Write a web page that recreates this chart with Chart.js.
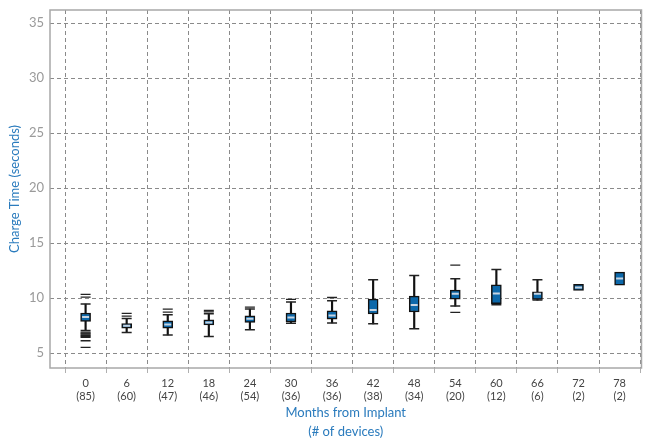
<!DOCTYPE html>
<html lang="en">
<head>
  <meta charset="UTF-8">
  <title>Charge Time vs Months from Implant</title>
  <script src="https://cdn.jsdelivr.net/npm/chart.js"></script>
  <style>
    html, body { margin: 0; padding: 0; background: #fff; }
    #wrap { width: 648px; height: 439px; position: relative; }
  </style>
</head>
<body>
  <div id="wrap"><canvas id="chart"></canvas></div>

  <script>
    // months from implant and device counts
    const months = [0, 6, 12, 18, 24, 30, 36, 42, 48, 54, 60, 66, 72, 78];
    const counts = [85, 60, 47, 46, 54, 36, 36, 38, 34, 20, 12, 6, 2, 2];

    // box plot stats (seconds)
    const q1 = [7.87, 7.27, 7.27, 7.55, 7.78, 7.82, 8.09, 8.55, 8.73, 9.9, 9.48, 9.88, 10.7, 11.18];
    const median = [8.27, 7.48, 7.6, 7.78, 8.12, 8.24, 8.42, 8.91, 9.38, 10.39, 10.42, 10.39, 10.97, 11.78];
    const q3 = [8.64, 7.69, 7.94, 8.03, 8.39, 8.64, 8.85, 9.9, 10.17, 10.72, 11.2, 10.57, 11.24, 12.36];
    const whiskerLo = [7.04, 6.87, 6.64, 6.51, 7.12, 7.7, 7.73, 7.66, 7.22, 9.27, 9.39, 9.82, null, null];
    const whiskerHi = [9.46, 8.15, 8.48, 8.57, 9.0, 9.64, 9.75, 11.66, 12.06, 11.75, 12.6, 11.66, null, null];
    const outliers = [
      [10.33, 10.09, 6.9, 6.82, 6.74, 6.66, 6.58, 6.5, 6.42, 6.12, 5.52],
      [8.6, 8.36],
      [9.0, 8.73],
      [8.87, 8.75],
      [9.18],
      [9.88],
      [10.05],
      [], [],
      [13.0, 8.69],
      [], [], [], []
    ];

    const yTicks = [5, 10, 15, 20, 25, 30, 35];

    const blue = '#0c68aa';
    const titleBlue = '#2a7bbd';
    const font = "Lato, 'Open Sans', sans-serif";

    const whiskerData = [], boxData = [], medianData = [], capData = [], outlierData = [];
    months.forEach((m, i) => {
      if (whiskerLo[i] != null) {
        whiskerData.push({ x: m, y: [whiskerLo[i], whiskerHi[i]] });
        capData.push({ x: m, y: whiskerLo[i] }, { x: m, y: whiskerHi[i] });
      }
      boxData.push({ x: m, y: [q1[i], q3[i]] });
      medianData.push({ x: m, y: median[i] });
      outliers[i].forEach(v => outlierData.push({ x: m, y: v }));
    });

    const framePlugin = {
      id: 'frame',
      afterDraw(chart) {
        const a = chart.chartArea, ctx = chart.ctx;
        ctx.save();
        ctx.strokeStyle = '#a8a8a8';
        ctx.lineWidth = 1.5;
        ctx.setLineDash([]);
        ctx.strokeRect(a.left, a.top, a.right - a.left, a.bottom - a.top);
        ctx.restore();
      }
    };

    new Chart(document.getElementById('chart'), {
      type: 'bar',
      data: {
        datasets: [
          { label: 'whisker', data: whiskerData, backgroundColor: '#111', barThickness: 1.5, grouped: false, order: 3 },
          { label: 'box', data: boxData, backgroundColor: blue, borderColor: '#111', borderWidth: 1.5,
            borderSkipped: false, barThickness: 10, grouped: false, order: 2 },
          { type: 'scatter', label: 'median', data: medianData, pointStyle: 'line', radius: 3.5,
            borderColor: '#c6d4e2', borderWidth: 2, order: 1 },
          { type: 'scatter', label: 'cap', data: capData, pointStyle: 'line', radius: 5,
            borderColor: '#222', borderWidth: 1.5, order: 1 },
          { type: 'scatter', label: 'outlier', data: outlierData, pointStyle: 'line', radius: 5,
            borderColor: '#222', borderWidth: 1.3, order: 1 }
        ]
      },
      options: {
        responsive: true,
        maintainAspectRatio: false,
        animation: false,
        layout: { padding: { top: 10, right: 5, left: 0, bottom: 0 } },
        plugins: { legend: { display: false }, tooltip: { enabled: false } },
        scales: {
          x: {
            type: 'linear',
            offset: false,
            min: -5.2,
            max: 81.2,
            afterBuildTicks: s => { s.ticks = months.map(v => ({ value: v })); },
            afterFit: s => { s.height = 71; s.paddingLeft = 0; s.paddingRight = 0; },
            grid: { color: '#8a8a8a', lineWidth: 1, tickLength: 5, tickColor: '#b0b0b0', tickBorderDash: [] },
            border: { display: false, dash: [4, 3] },
            ticks: {
              color: '#444',
              padding: 4,
              maxRotation: 0,
              font: { family: font, size: 11, lineHeight: 1.2 },
              callback: (v) => { const i = months.indexOf(v); return [String(v), '(' + counts[i] + ')']; }
            },
            title: {
              display: true,
              text: ['Months from Implant', '(# of devices)'],
              color: titleBlue,
              font: { family: font, size: 13, lineHeight: 1.45 },
              padding: { top: 0, bottom: -2 }
            }
          },
          y: {
            min: 3.64,
            max: 36.2,
            afterBuildTicks: s => { s.ticks = yTicks.map(v => ({ value: v })); },
            afterFit: s => { s.width = 50; s.paddingTop = 0; s.paddingBottom = 0; },
            grid: { color: '#8a8a8a', lineWidth: 1, drawTicks: false },
            border: { display: false, dash: [4, 3] },
            ticks: {
              color: '#9a9a9a',
              padding: 6,
              font: { family: font, size: 13 }
            },
            title: {
              display: true,
              text: 'Charge Time (seconds)',
              color: titleBlue,
              font: { family: font, size: 13 },
              padding: { top: 7, bottom: 0 }
            }
          }
        }
      },
      plugins: [framePlugin]
    });
  </script>
</body>
</html>
